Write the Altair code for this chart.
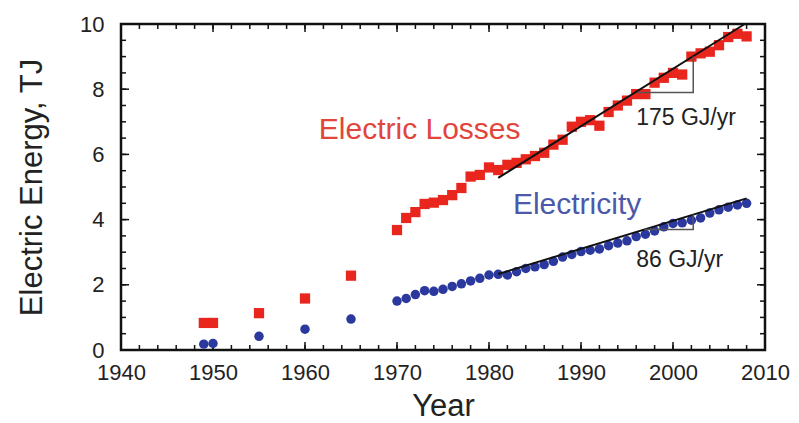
import altair as alt
import pandas as pd

# Annual U.S. per-capita electric energy, TJ
loss_years = [1949, 1950, 1955, 1960, 1965] + list(range(1970, 2009))
loss_values = [0.83, 0.83, 1.13, 1.58, 2.28,
               3.68, 4.05, 4.23, 4.48, 4.52, 4.6, 4.75, 4.97, 5.32, 5.37,
               5.6, 5.52, 5.68, 5.74, 5.85, 5.95, 6.05, 6.3, 6.45, 6.85,
               7.0, 7.05, 6.88, 7.3, 7.5, 7.65, 7.85, 7.85, 8.2, 8.35,
               8.5, 8.45, 9.0, 9.1, 9.15, 9.35, 9.6, 9.7, 9.62]

elec_years = [1949, 1950, 1955, 1960, 1965] + list(range(1970, 2009))
elec_values = [0.18, 0.2, 0.42, 0.64, 0.95,
               1.5, 1.58, 1.7, 1.82, 1.8, 1.86, 1.95, 2.03, 2.12, 2.2,
               2.3, 2.32, 2.3, 2.4, 2.5, 2.55, 2.62, 2.72, 2.85, 2.93,
               3.02, 3.06, 3.1, 3.2, 3.28, 3.35, 3.48, 3.55, 3.65, 3.78,
               3.88, 3.9, 3.98, 4.05, 4.2, 4.3, 4.38, 4.45, 4.5]

# Linear fits over 1981-2008 (slopes 175 and 86 GJ/yr)
loss_fit_x = [1981, 2007.8]
loss_fit_y = [5.28, 10.0]
elec_fit_x = [1981, 2008]
elec_fit_y = [2.33, 4.65]

# Slope triangles: horizontal leg then vertical leg
loss_tri_x = [1996.1, 2002.2, 2002.2]
loss_tri_y = [7.9, 7.9, 9.0]
elec_tri_x = [1996.9, 2002.2, 2002.2]
elec_tri_y = [3.7, 3.7, 4.16]

# Annotations
label_text = ["Electric Losses", "Electricity", "175 GJ/yr", "86 GJ/yr"]
label_x = [1961.5, 1982.6, 1996.0, 1996.0]
label_y = [6.75, 4.45, 7.12, 2.76]
label_size = [30, 30, 23, 23]
label_color = ["#e2453b", "#4d58aa", "#222222", "#222222"]

x_major = list(range(1940, 2011, 10))
x_minor = list(range(1942, 2010, 2))
y_major = [0, 2, 4, 6, 8, 10]
y_minor = [v / 2 for v in range(1, 20)]

W, H = 644, 326
FONT = "Liberation Sans"

xscale = alt.Scale(domain=[1940, 2010], nice=False, zero=False)
yscale = alt.Scale(domain=[0, 10], nice=False, zero=True)

xaxis = alt.Axis(values=x_major, format="d", title="Year", ticks=False, domain=False,
                 grid=False, labelFlush=False, labelOverlap=False,
                 labelFontSize=22, labelFont=FONT, labelColor="#222",
                 labelPadding=12, titleFontSize=31, titleFont=FONT, titleFontWeight="normal",
                 titleColor="#222", titlePadding=8)
yaxis = alt.Axis(values=y_major, format="d", title="Electric Energy, TJ", ticks=False,
                 domain=False, grid=False, labelFlush=False, labelOverlap=False,
                 labelFontSize=22, labelFont=FONT,
                 labelColor="#222", labelPadding=17, titleFontSize=31, titleFont=FONT,
                 titleFontWeight="normal", titleColor="#222", titlePadding=31)

X = lambda f: alt.X(f, type="quantitative", scale=xscale, axis=xaxis)
Y = lambda f: alt.Y(f, type="quantitative", scale=yscale, axis=yaxis)

loss_df = pd.DataFrame({"year": loss_years, "value": loss_values})
elec_df = pd.DataFrame({"year": elec_years, "value": elec_values})

losses = alt.Chart(loss_df).mark_square(size=105, color="#e8261e", opacity=1).encode(
    x=X("year"), y=Y("value"))
electricity = alt.Chart(elec_df).mark_circle(size=90, color="#2b399e", opacity=1).encode(
    x=X("year"), y=Y("value"))

fits = alt.Chart(pd.DataFrame({
    "year": loss_fit_x + elec_fit_x,
    "value": loss_fit_y + elec_fit_y,
    "series": ["loss"] * 2 + ["elec"] * 2,
})).mark_line(color="#111111", strokeWidth=2).encode(
    x=X("year"), y=Y("value"), detail="series:N")

tris = alt.Chart(pd.DataFrame({
    "year": loss_tri_x + elec_tri_x,
    "value": loss_tri_y + elec_tri_y,
    "series": ["loss"] * 3 + ["elec"] * 3,
    "order": [0, 1, 2] * 2,
})).mark_line(color="#555555", strokeWidth=1.5).encode(
    x=X("year"), y=Y("value"), detail="series:N", order="order:Q")

labels = alt.Chart(pd.DataFrame({
    "year": label_x, "value": label_y, "text": label_text,
    "size": label_size, "color": label_color,
})).mark_text(align="left", baseline="middle", font=FONT).encode(
    x=X("year"), y=Y("value"), text="text:N",
    size=alt.Size("size:Q", scale=None, legend=None),
    color=alt.Color("color:N", scale=None, legend=None))

# Inward-pointing ticks on all four sides
xt = pd.DataFrame({"year": x_major + x_minor,
                   "len": [8] * len(x_major) + [5] * len(x_minor)})
yt = pd.DataFrame({"value": y_major + y_minor,
                   "len": [8] * len(y_major) + [5] * len(y_minor)})

xticks_bottom = alt.Chart(xt).transform_calculate(y0=f"{H}", y1=f"{H} - datum.len").mark_rule(
    color="#111", strokeWidth=1.5).encode(
    x=X("year"), y=alt.Y("y0:Q", scale=None), y2="y1:Q")
xticks_top = alt.Chart(xt).transform_calculate(y0="0", y1="datum.len").mark_rule(
    color="#111", strokeWidth=1.5).encode(
    x=X("year"), y=alt.Y("y0:Q", scale=None), y2="y1:Q")
yticks_left = alt.Chart(yt).transform_calculate(x0="0", x1="datum.len").mark_rule(
    color="#111", strokeWidth=1.5).encode(
    y=Y("value"), x=alt.X("x0:Q", scale=None), x2="x1:Q")
yticks_right = alt.Chart(yt).transform_calculate(x0=f"{W}", x1=f"{W} - datum.len").mark_rule(
    color="#111", strokeWidth=1.5).encode(
    y=Y("value"), x=alt.X("x0:Q", scale=None), x2="x1:Q")

chart = alt.layer(
    xticks_bottom, xticks_top, yticks_left, yticks_right,
    losses, electricity, fits, tris, labels,
).properties(
    width=W, height=H,
    autosize=alt.AutoSizeParams(type="none"),
    padding={"left": 121, "top": 24, "right": 34, "bottom": 73},
    background="white",
).configure_view(stroke="#111", strokeWidth=2.5)

chart.save("out.html", embed_options={"renderer": "svg", "actions": False})
